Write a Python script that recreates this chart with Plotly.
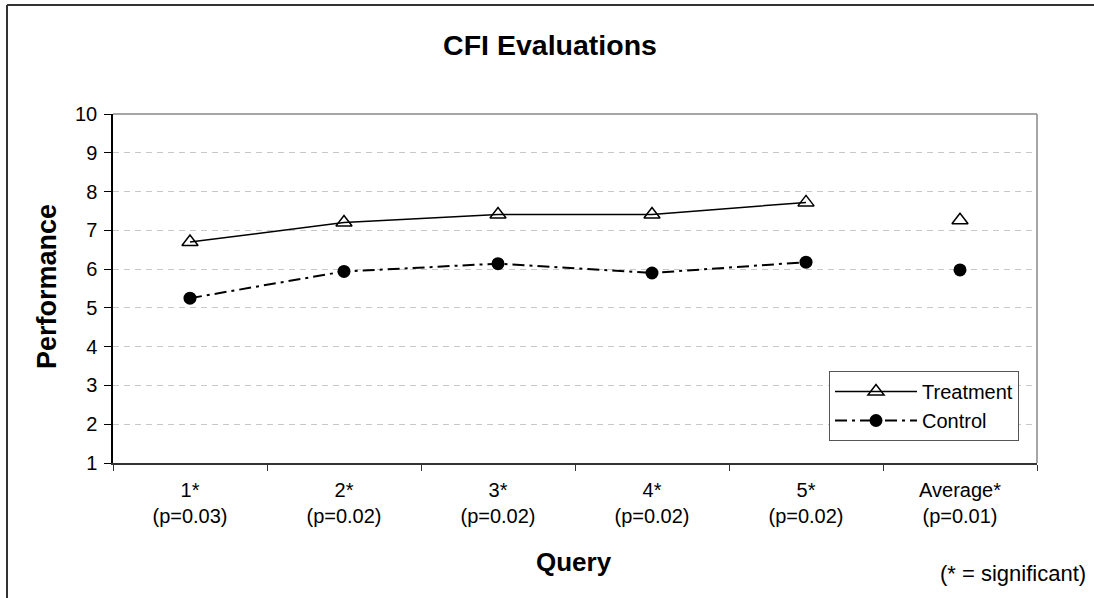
import plotly.graph_objects as go

categories = ["1*<br>(p=0.03)", "2*<br>(p=0.02)", "3*<br>(p=0.02)", "4*<br>(p=0.02)", "5*<br>(p=0.02)", "Average*<br>(p=0.01)"]
query_cats = categories[:5]
avg_cat = categories[5:]
treatment = [6.70, 7.20, 7.41, 7.41, 7.72]
treatment_avg = [7.26]
control = [5.25, 5.94, 6.14, 5.90, 6.18]
control_avg = [5.98]

W, H = 1094, 598
L, R, T, B = 113, 1037, 114, 463
pw, ph = R - L, B - T

def px(x):
    return (x - L) / pw

def py(y):
    return (B - y) / ph

fig = go.Figure()
fig.add_trace(go.Scatter(
    x=query_cats, y=treatment, name="Treatment", mode="lines+markers",
    line=dict(color="black", width=1.5),
    marker=dict(symbol="triangle-up-open", size=14, color="black", line=dict(width=1.5, color="black")),
))
fig.add_trace(go.Scatter(
    x=query_cats, y=control, name="Control", mode="lines+markers",
    line=dict(color="black", width=2, dash="12px,5px,3px,5px"),
    marker=dict(symbol="circle", size=13, color="black"),
))
fig.add_trace(go.Scatter(
    x=avg_cat, y=treatment_avg, mode="markers", showlegend=False,
    marker=dict(symbol="triangle-up-open", size=14, color="black", line=dict(width=1.5, color="black")),
))
fig.add_trace(go.Scatter(
    x=avg_cat, y=control_avg, mode="markers", showlegend=False,
    marker=dict(symbol="circle", size=13, color="black"),
))

font = dict(family="Arial, Liberation Sans, sans-serif", color="black")

fig.update_layout(
    width=W, height=H,
    margin=dict(l=L, r=W - R, t=T, b=H - B, pad=0),
    paper_bgcolor="white", plot_bgcolor="white",
    font=dict(**font, size=20),
    title=dict(text="<b>CFI Evaluations</b>", x=550 / W, xref="container", xanchor="center",
               y=1 - 45 / H, yref="container", yanchor="middle",
               font=dict(**font, size=28.5)),
    xaxis=dict(
        type="category", categoryorder="array", categoryarray=categories,
        range=[-0.5, 5.5], showgrid=False, zeroline=False,
        showline=True, linecolor="#333333", linewidth=2,
        ticks="outside", tickson="boundaries", ticklen=6, tickcolor="#333333", tickwidth=1,
        tickfont=dict(**font, size=20), ticklabelstandoff=8,
    ),
    yaxis=dict(
        range=[1, 10], dtick=1, showgrid=True, gridcolor="#c8c8c8", griddash="6px,5px", gridwidth=1,
        zeroline=False, showline=True, linecolor="black", linewidth=1.5,
        ticks="outside", ticklen=7, tickcolor="black", tickfont=dict(**font, size=20),
        ticklabelstandoff=3,
    ),
    legend=dict(
        x=px(829), y=py(371), xanchor="left", yanchor="top",
        bordercolor="#555555", borderwidth=1, bgcolor="white",
        font=dict(**font, size=20), tracegroupgap=0, itemwidth=82,
    ),
    annotations=[
        dict(text="<b>Performance</b>", x=px(47), y=py(287), xref="paper", yref="paper",
             textangle=-90, showarrow=False, font=dict(**font, size=27),
             xanchor="center", yanchor="middle"),
        dict(text="<b>Query</b>", x=px(574), y=py(562), xref="paper", yref="paper",
             showarrow=False, font=dict(**font, size=26), xanchor="center", yanchor="middle"),
        dict(text="(* = significant)", x=px(1088), y=py(573), xref="paper", yref="paper",
             showarrow=False, font=dict(**font, size=22), xanchor="right", yanchor="middle"),
    ],
    shapes=[
        dict(type="line", xref="paper", yref="paper", x0=0, x1=1, y0=1, y1=1,
             line=dict(color="#888888", width=1.5), layer="above"),
        dict(type="line", xref="paper", yref="paper", x0=1, x1=1, y0=0, y1=1,
             line=dict(color="#888888", width=1.5), layer="above"),
        dict(type="line", xref="paper", yref="paper", x0=px(7), x1=px(7), y0=py(5), y1=py(600),
             line=dict(color="#333333", width=2), layer="above"),
        dict(type="line", xref="paper", yref="paper", x0=px(7), x1=px(1100), y0=py(5), y1=py(5),
             line=dict(color="#333333", width=2), layer="above"),
    ],
)

fig.write_html("out.html", config={"displayModeBar": False},
               post_script="document.body.style.margin='0';document.body.style.overflow='hidden';")
